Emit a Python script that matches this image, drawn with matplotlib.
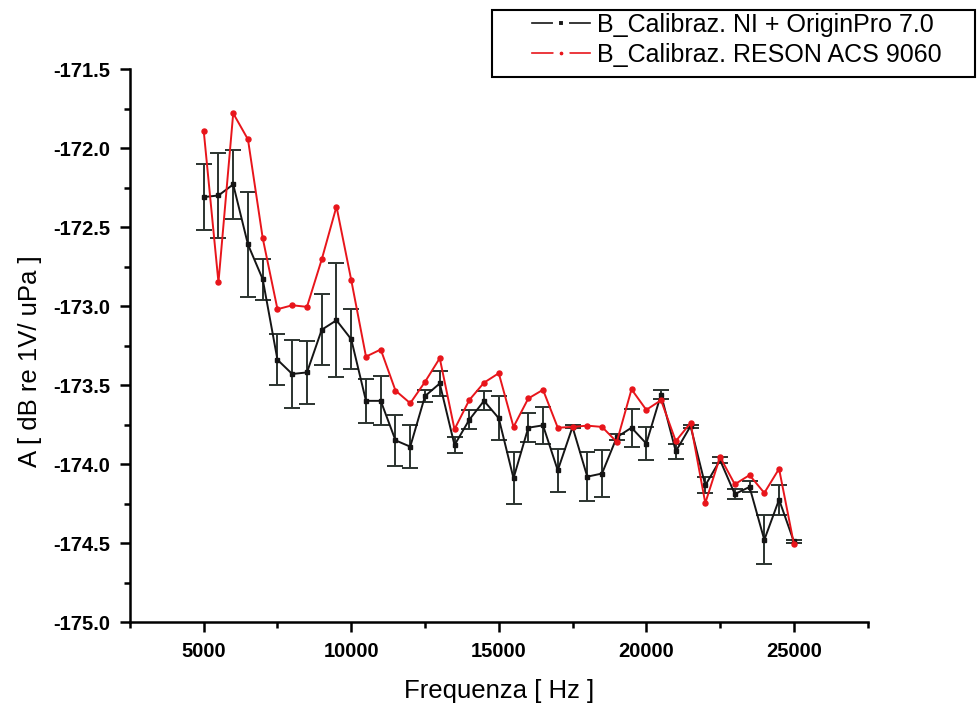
import numpy as np
import matplotlib
matplotlib.use('Agg')
import matplotlib.pyplot as plt
from matplotlib.lines import Line2D
from matplotlib.patches import Rectangle
from matplotlib.ticker import MultipleLocator, FormatStrFormatter

plt.rcParams['font.family'] = ['Liberation Sans', 'DejaVu Sans']

####data
freq = [5000, 5500, 6000, 6500, 7000, 7500, 8000, 8500, 9000, 9500,
        10000, 10500, 11000, 11500, 12000, 12500, 13000, 13500, 14000, 14500,
        15000, 15500, 16000, 16500, 17000, 17500, 18000, 18500, 19000, 19500,
        20000, 20500, 21000, 21500, 22000, 22500, 23000, 23500, 24000, 24500,
        25000]

# B_Calibraz. NI + OriginPro 7.0 (with error bars)
ni_vals = [-172.31, -172.30, -172.23, -172.61, -172.83, -173.34, -173.43, -173.42, -173.15, -173.09,
           -173.21, -173.60, -173.60, -173.85, -173.89, -173.57, -173.49, -173.88, -173.72, -173.60,
           -173.71, -174.09, -173.77, -173.755, -174.04, -173.765, -174.08, -174.06, -173.83, -173.77,
           -173.87, -173.56, -173.92, -173.76, -174.135, -173.975, -174.19, -174.145, -174.48, -174.225,
           -174.49]
ni_err = [0.21, 0.27, 0.22, 0.33, 0.13, 0.16, 0.215, 0.20, 0.225, 0.36,
          0.19, 0.14, 0.155, 0.16, 0.135, 0.04, 0.08, 0.05, 0.06, 0.06,
          0.14, 0.165, 0.09, 0.115, 0.135, 0.01, 0.157, 0.148, 0.02, 0.12,
          0.105, 0.03, 0.05, 0.01, 0.05, 0.02, 0.03, 0.035, 0.155, 0.095,
          0.01]

# B_Calibraz. RESON ACS 9060
reson_vals = [-171.89, -172.85, -171.78, -171.945, -172.57, -173.02, -172.995, -173.005, -172.705, -172.37,
              -172.835, -173.32, -173.275, -173.535, -173.615, -173.48, -173.33, -173.78, -173.595, -173.485,
              -173.425, -173.765, -173.585, -173.53, -173.77, -173.765, -173.757, -173.765, -173.86, -173.527,
              -173.657, -173.596, -173.855, -173.74, -174.247, -173.955, -174.128, -174.07, -174.183, -174.03,
              -174.504]

label_ni = 'B_Calibraz. NI + OriginPro 7.0'
label_reson = 'B_Calibraz. RESON ACS 9060'

black = '#151515'
red = '#e8151b'

fig = plt.figure(figsize=(9.77, 7.05), dpi=100)
ax = fig.add_axes([0.133, 0.1177, 0.755, 0.7843])

ax.errorbar(freq, ni_vals, yerr=ni_err, color=black, lw=1.4, marker='s', ms=3,
            ecolor='#2b332f', elinewidth=1.4, capsize=5.5, capthick=1.4, zorder=2)
ax.plot(freq, reson_vals, color=red, lw=1.4, marker='o', ms=3.6, zorder=3)

ax.set_xlim(2500, 27500)
ax.set_ylim(-175.0, -171.5)
ax.xaxis.set_major_locator(MultipleLocator(5000))
ax.xaxis.set_minor_locator(MultipleLocator(2500))
ax.yaxis.set_major_locator(MultipleLocator(0.5))
ax.yaxis.set_minor_locator(MultipleLocator(0.25))
ax.yaxis.set_major_formatter(FormatStrFormatter('%.1f'))

for s in ['top', 'right']:
    ax.spines[s].set_visible(False)
for s in ['left', 'bottom']:
    ax.spines[s].set_linewidth(1.8)

ax.tick_params(which='major', direction='out', length=7, width=1.8, labelsize=14.5, pad=7.4)
ax.tick_params(which='minor', direction='out', length=4, width=1.8)
for lab in ax.get_xticklabels() + ax.get_yticklabels():
    lab.set_fontweight('bold')

ax.set_xlabel('Frequenza [ Hz ]', fontsize=18.5, labelpad=13)
ax.set_ylabel('A [ dB re 1V/ uPa ]', fontsize=18.5)
ax.yaxis.set_label_coords(-0.119, 0.472)

###legend, origin style handles with a gap round the dot
h1 = Line2D([], [], color=black, lw=1.2, marker='s', ms=7.2, mec='white', mew=4.4, mfc=black)
h2 = Line2D([], [], color=red, lw=1.2, marker='o', ms=7.2, mec='white', mew=4.4, mfc=red)
leg = fig.legend([h1, h2], [label_ni, label_reson], loc='upper left',
                 bbox_to_anchor=(0.5445, 0.9815), fontsize=18, frameon=False,
                 handlelength=2.32, handletextpad=0.28, borderpad=0.0,
                 labelspacing=0.22, borderaxespad=0.0)
# frame drawn by hand, origin pads the box more on the sides than on top
fig.patches.append(Rectangle((0.5036, 0.8908), 0.4944, 0.095, transform=fig.transFigure,
                             fill=False, ec='black', lw=1.5))

fig.savefig('out.png', dpi=100)
